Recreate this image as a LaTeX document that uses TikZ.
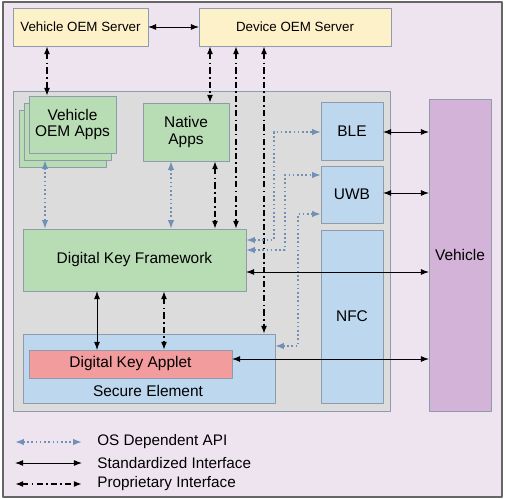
\documentclass[tikz,border=0pt]{standalone}
\usepackage{fontspec}
\setmainfont{Liberation Sans}
\usetikzlibrary{arrows.meta}
\definecolor{bgLav}{HTML}{EEE4F0}
\definecolor{phoneGrey}{HTML}{DCDCDC}
\definecolor{srvYellow}{HTML}{FDF1C9}
\definecolor{appGreen}{HTML}{B8DDB5}
\definecolor{ifBlue}{HTML}{BDD7EE}
\definecolor{appletRed}{HTML}{F39C9E}
\definecolor{vehPurple}{HTML}{D3B4D8}
\definecolor{apiBlue}{HTML}{7090B6}
\definecolor{rimGrey}{HTML}{8F9BAA}
\begin{document}
\begin{tikzpicture}[x=0.02cm,y=-0.02cm,line join=bevel]
  \tikzstyle{box}=[draw=rimGrey,line width=0.5pt,inner sep=0pt,outer sep=0pt,align=center,
                   font=\fontsize{8.8}{9.5}\selectfont]
  \tikzstyle{srv}=[box,fill=srvYellow,font=\fontsize{7.6}{9}\selectfont]
  \tikzstyle{app}=[box,fill=appGreen]
  \tikzstyle{radio}=[box,fill=ifBlue]
  \tikzstyle{std}=[{Latex[length=4.6pt,width=3.4pt]}-{Latex[length=4.6pt,width=3.4pt]},line width=0.55pt]
  \tikzstyle{prop}=[{Latex[length=4.6pt,width=3.4pt]}-{Latex[length=4.6pt,width=3.4pt]},line width=1.1pt,
                    dash pattern=on 3.5pt off 1.8pt on 1pt off 1.8pt]
  \tikzstyle{api}=[{Latex[length=5pt,width=3.6pt]}-{Latex[length=5pt,width=3.6pt]},apiBlue,line width=0.9pt,
                   dash pattern=on 0.9pt off 1.5pt]
  \tikzstyle{legend}=[anchor=west,inner sep=0pt,font=\fontsize{8.7}{10}\selectfont]

  \useasboundingbox (0,0) rectangle (506,499);
  \fill[bgLav,draw=black!60,line width=0.6pt] (3,2) rectangle (502,497);

  % servers
  \node[srv,minimum width=2.70cm,minimum height=0.76cm] (S_veh) at (80.5,27) {Vehicle OEM Server};
  \node[srv,minimum width=3.84cm,minimum height=0.76cm] (S_dev) at (295,27) {Device OEM Server};

  % phone
  \node[box,fill=phoneGrey,minimum width=7.54cm,minimum height=6.40cm] (phone) at (201.5,251) {};
  \node[app,minimum width=1.74cm,minimum height=1.14cm] (A_veh_3) at (62.5,138.5) {};
  \node[app,minimum width=1.74cm,minimum height=1.14cm] (A_veh_2) at (67.5,131.5) {};
  \node[app,minimum width=1.74cm,minimum height=1.14cm] (A_veh) at (72.5,124.5) {Vehicle\\OEM Apps};
  \node[app,minimum width=1.72cm,minimum height=1.16cm] (A_nat) at (186,132) {Native\\Apps};
  \node[app,minimum width=4.46cm,minimum height=1.24cm] (F_dk) at (134.5,260) {Digital Key Framework};
  \node[radio,minimum width=5.04cm,minimum height=1.38cm] (SE) at (149,368.5) {};
  \node[box,fill=appletRed,minimum width=4.06cm,minimum height=0.56cm] (Applet) at (130.5,364) {Digital Key Applet};
  \node[inner sep=0pt,font=\fontsize{8.8}{10}\selectfont] (SE_txt) at (148,391) {Secure Element};
  \node[radio,minimum width=1.24cm,minimum height=1.16cm] (BLE) at (352,131) {BLE};
  \node[radio,minimum width=1.24cm,minimum height=1.14cm] (UWB) at (352,194.5) {UWB};
  \node[radio,minimum width=1.24cm,minimum height=3.46cm] (NFC) at (352,316.5) {NFC};

  % vehicle
  \node[box,fill=vehPurple,minimum width=1.24cm,minimum height=6.24cm] (Veh) at (460,255) {Vehicle};

  % connectors
  \path (S_veh) edge[std] (S_dev)
        (S_veh.south -| 47,0) edge[prop] (A_veh.north -| 47,0)
        (S_dev.south -| 210,0) edge[prop] (A_nat.north -| 210,0)
        (S_dev.south -| 236,0) edge[prop] (F_dk.north -| 236,0)
        (S_dev.south -| 264,0) edge[prop] (SE.north -| 264,0)
        (A_nat.south -| 215,0) edge[prop] (F_dk.north -| 215,0)
        (A_veh_2.south -| 45,0) edge[api] (F_dk.north -| 45,0)
        (A_nat.south -| 171,0) edge[api] (F_dk.north -| 171,0)
        (F_dk.south -| 97,0) edge[std] (Applet.north -| 97,0)
        (F_dk.south -| 164,0) edge[prop] (Applet.north -| 164,0)
        (BLE.east |- 0,132) edge[std] (Veh.west |- 0,132)
        (UWB.east |- 0,193) edge[std] (Veh.west |- 0,193)
        (F_dk.east |- 0,272) edge[std] (Veh.west |- 0,272)
        (Applet.east |- 0,359) edge[std] (Veh.west |- 0,359);
  \draw[api] (F_dk.east |- 0,240) -| (274,132) -- (BLE.west |- 0,132);
  \draw[api] (F_dk.east |- 0,250) -| (285,175) -- (UWB.west |- 0,175);
  \draw[api] (SE.east |- 0,346) -| (298,214) -- (UWB.west |- 0,214);

  % legend
  \coordinate (Lg_1a) at (15,442); \coordinate (Lg_1b) at (82,442);
  \coordinate (Lg_2a) at (15,463); \coordinate (Lg_2b) at (82,463);
  \coordinate (Lg_3a) at (15,484); \coordinate (Lg_3b) at (82,484);
  \path (Lg_1a) edge[api] (Lg_1b)
        (Lg_2a) edge[std] (Lg_2b)
        (Lg_3a) edge[prop] (Lg_3b);
  \node[legend] (Lg_1) at (97,442) {OS Dependent API};
  \node[legend] (Lg_2) at (97,463) {Standardized Interface};
  \node[legend] (Lg_3) at (97,484) {Proprietary Interface};
\end{tikzpicture}
\end{document}
